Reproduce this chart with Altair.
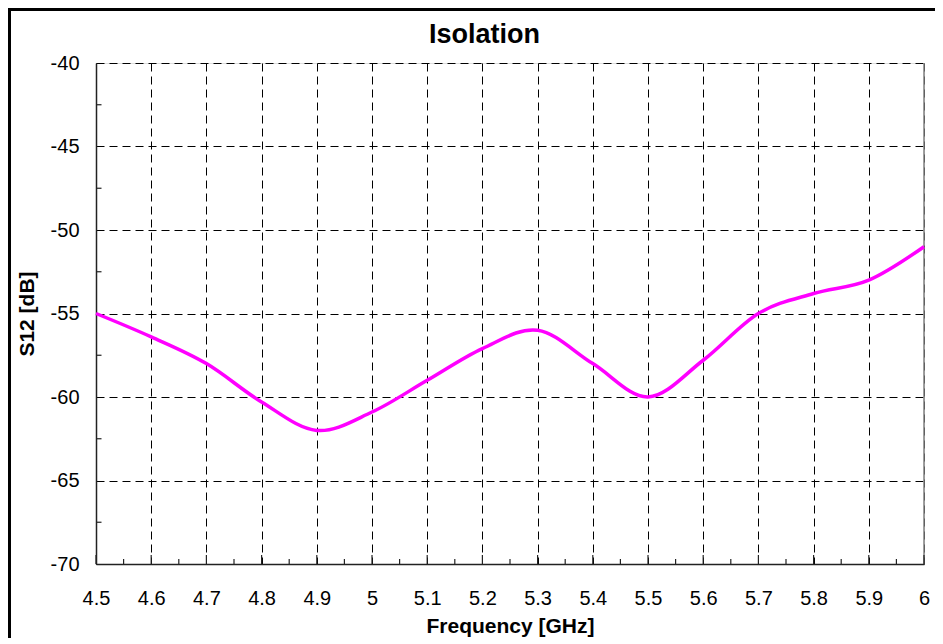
import altair as alt
import pandas as pd
import numpy as np

# Data
freq = [4.5, 4.6, 4.7, 4.8, 4.9, 5.0, 5.1, 5.2, 5.3, 5.4, 5.5, 5.6, 5.7, 5.8, 5.9, 6.0]
s12 = [-55.0, -56.4, -58.0, -60.3, -62.0, -60.9, -59.0, -57.1, -56.0, -58.0, -60.0, -57.8, -55.0, -53.8, -53.0, -51.0]

x_major = [round(v, 2) for v in np.arange(4.5, 6.001, 0.1)]
x_minor = [round(v, 3) for v in np.arange(4.55, 6.0, 0.1)]
y_major = [-70, -65, -60, -55, -50, -45, -40]
y_minor = [-67.5, -62.5, -57.5, -52.5, -47.5, -42.5]
chart_title = "Isolation"

W, H = 828, 501
FONT = "Liberation Sans"

df = pd.DataFrame({"f": freq, "s": s12})
xs = alt.Scale(domain=[4.5, 6.0], nice=False, zero=False)
ys = alt.Scale(domain=[-70, -40], nice=False, zero=False)

base_x_axis = alt.Axis(
    values=x_major, labelExpr="format(datum.value, '.2~f')", title="Frequency [GHz]",
    grid=True, gridDash=[8, 5], gridColor="#000", gridWidth=1, labelFlush=False,
    ticks=False, tickSize=0, labelPadding=24, labelFontSize=20, labelFont=FONT,
    labelColor="#000", domainColor="#222", domainWidth=1.5,
    titleFont=FONT, titleFontSize=21, titleFontWeight="bold", titleColor="#000",
    titleX=W / 2, titleY=62, titleBaseline="middle", titleAlign="center",
)
base_y_axis = alt.Axis(
    values=y_major, labelExpr="datum.value + ''", title="S12 [dB]",
    grid=True, gridDash=[8, 5], gridColor="#000", gridWidth=1, labelFlush=False,
    ticks=False, tickSize=0, labelPadding=17, labelFontSize=20, labelFont=FONT,
    labelColor="#000", domainColor="#222", domainWidth=1.5,
    titleFont=FONT, titleFontSize=21, titleFontWeight="bold", titleColor="#000",
    titleX=-69, titleY=H / 2, titleAngle=-90, titleBaseline="middle", titleAlign="center",
)

line = alt.Chart(df).mark_line(
    color="#FF00FF", strokeWidth=3.5, interpolate="cardinal"
).encode(
    x=alt.X("f:Q", scale=xs, axis=base_x_axis),
    y=alt.Y("s:Q", scale=ys, axis=base_y_axis),
)

right_frame = alt.Chart(pd.DataFrame({"f": [6.0]})).mark_rule(
    color="#808080", strokeWidth=1.5
).encode(x=alt.X("f:Q", scale=xs), y=alt.value(0), y2=alt.value(H))

xmaj = alt.Chart(pd.DataFrame({"f": x_major})).mark_rule(color="#222", strokeWidth=1.2).encode(
    x=alt.X("f:Q", scale=xs), y=alt.value(H), y2=alt.value(H - 9))
xmin = alt.Chart(pd.DataFrame({"f": x_minor})).mark_rule(color="#222", strokeWidth=1.2).encode(
    x=alt.X("f:Q", scale=xs), y=alt.value(H), y2=alt.value(H - 5))
ymin = alt.Chart(pd.DataFrame({"s": y_minor})).mark_rule(color="#222", strokeWidth=1.2).encode(
    y=alt.Y("s:Q", scale=ys), x=alt.value(0), x2=alt.value(5.5))

border = alt.Chart(pd.DataFrame({"a": [0]})).mark_rect(
    fill="transparent", stroke="#000", strokeWidth=3
).encode(x=alt.value(-86.5), y=alt.value(-53.5), x2=alt.value(980), y2=alt.value(720))

title = alt.Chart(pd.DataFrame({"t": [chart_title]})).mark_text(
    font=FONT, fontSize=27, fontWeight="bold", color="#000", align="center", baseline="middle"
).encode(text="t:N", x=alt.value(388.5), y=alt.value(-28))

chart = alt.layer(right_frame, xmin, xmaj, ymin, line, border, title).properties(
    width=W, height=H,
    autosize=alt.AutoSizeParams(type="none"),
    padding={"left": 88, "top": 55, "right": 11, "bottom": 74},
).configure_view(stroke=None).configure(background="white")

chart.save("out.html", embed_options={"renderer": "svg", "actions": False})
